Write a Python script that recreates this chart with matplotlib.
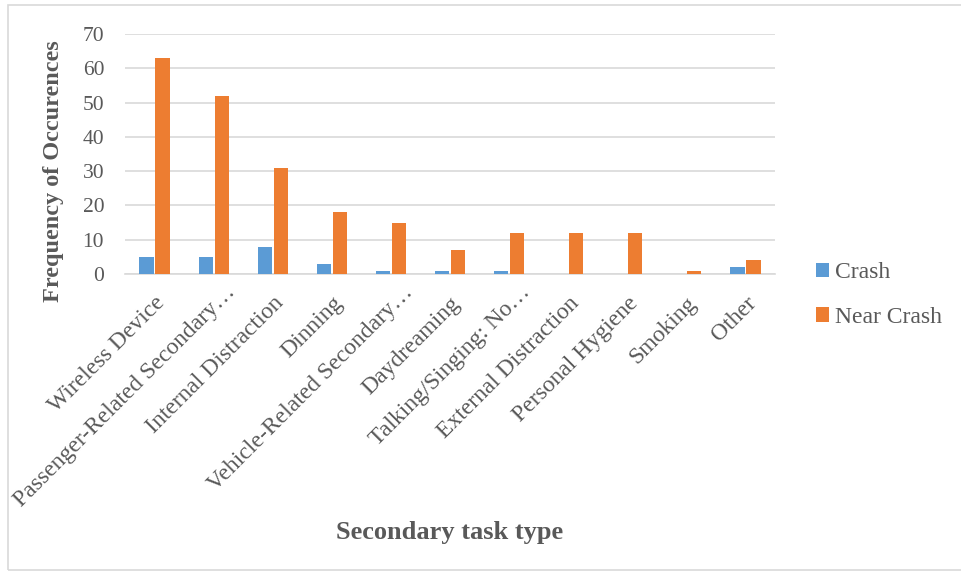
import numpy as np
import matplotlib.pyplot as plt
import matplotlib.transforms as mtransforms

categories = ['Wireless Device', 'Passenger-Related Secondary…', 'Internal Distraction',
              'Dinning', 'Vehicle-Related Secondary…', 'Daydreaming', 'Talking/Singing: No…',
              'External Distraction', 'Personal Hygiene', 'Smoking', 'Other']
crash = [5, 5, 8, 3, 1, 1, 1, 0, 0, 0, 2]
near_crash = [63, 52, 31, 18, 15, 7, 12, 12, 12, 1, 4]

plt.rcParams['font.family'] = ['Liberation Serif', 'DejaVu Serif']
txt = '#595959'

fig = plt.figure(figsize=(9.61, 5.78), dpi=100)
ax = fig.add_axes([125 / 961, 1 - 274 / 578, 650 / 961, 240 / 578])

x = np.arange(len(categories))
w = 0.24
ax.bar(x - w / 2 - 0.015, crash, w, color='#5B9BD5', label='Crash', zorder=3)
ax.bar(x + w / 2 + 0.015, near_crash, w, color='#ED7D31', label='Near Crash', zorder=3)

ax.set_xlim(-0.5, len(categories) - 0.5)
ax.set_ylim(0, 70)
ax.set_yticks(range(0, 71, 10))
ax.yaxis.grid(True, color='#D9D9D9', linewidth=1.2, zorder=0)
for s in ['top', 'right', 'left']:
    ax.spines[s].set_visible(False)
ax.spines['bottom'].set_color('#D9D9D9')
ax.spines['bottom'].set_linewidth(1.2)
ax.tick_params(axis='y', length=0, labelsize=15.5, labelcolor=txt, pad=15)
ax.tick_params(axis='x', length=0, labelsize=17, labelcolor=txt, pad=13.5)
ax.set_xticks(x)
ax.set_xticklabels(categories, rotation=45, ha='right', rotation_mode='anchor')
# truncated labels sit a bit further along in Excel
shift = mtransforms.ScaledTranslation(11 / 100, 11 / 100, fig.dpi_scale_trans)
for lab in ax.get_xticklabels():
    if lab.get_text().endswith('…'):
        lab.set_transform(lab.get_transform() + shift)

fig.text(54 / 961, 1 - 171 / 578, 'Frequency of Occurences', fontsize=17.5, fontweight='bold',
         color=txt, rotation=90, ha='center', va='center')
fig.text(450 / 961, 1 - 533 / 578, 'Secondary task type', fontsize=19, fontweight='bold',
         color=txt, ha='center', va='center')

leg = fig.legend(*ax.get_legend_handles_labels(), loc='center left',
                 bbox_to_anchor=(816 / 961, 1 - 295 / 578), frameon=False, fontsize=17,
                 labelcolor=txt, handlelength=0.55, handleheight=0.55, handletextpad=0.25,
                 labelspacing=1.0, borderpad=0, borderaxespad=0)

# outer chart border
border = plt.Rectangle((8 / 961, 8 / 578), 1.1, 1 - 13 / 578, transform=fig.transFigure,
                       fill=False, edgecolor='#D9D9D9', linewidth=1.2)
fig.patches.append(border)

fig.savefig('out.png', dpi=100)
